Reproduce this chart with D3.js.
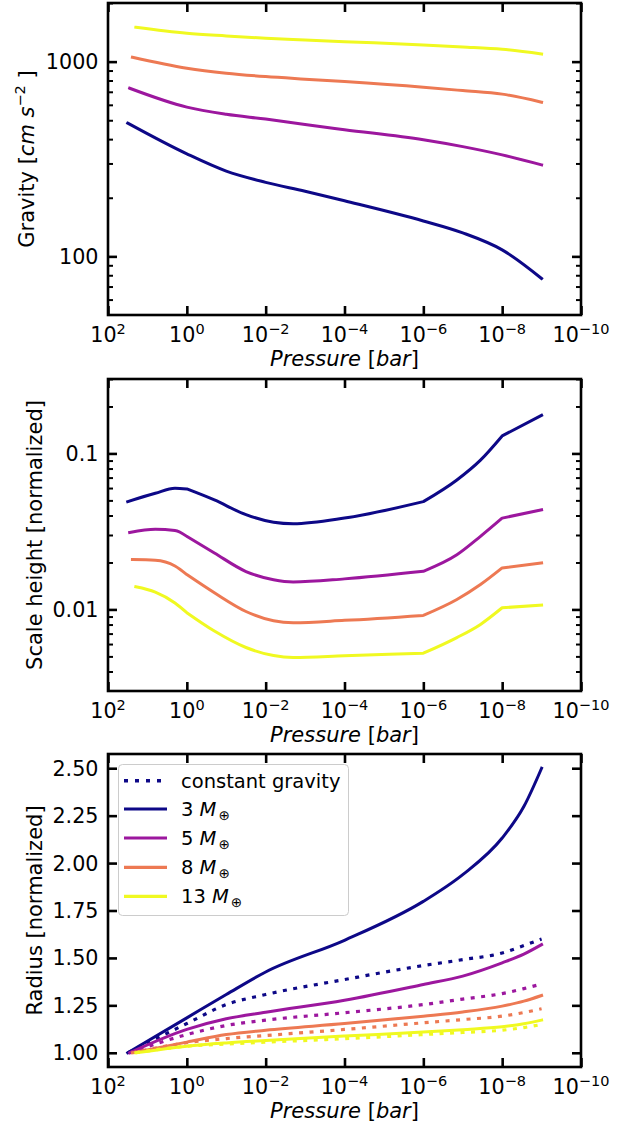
<!DOCTYPE html>
<html><head><meta charset="utf-8">
<script src="https://cdn.jsdelivr.net/npm/d3@7"></script>
<style>
body{margin:0;background:#fff}
text{font-family:"DejaVu Sans",sans-serif;fill:#000}
</style>
</head><body>
<svg id="chart" width="631" height="1123"></svg>
<script>
// ---------------- DATA ----------------
const masses = ["3", "5", "8", "13"];
const seriesColors = ["#0d0887", "#9c179e", "#ed7953", "#f0f921"];
// first pressure (bar) of each mass series
const startPressure = [31.6, 28.2, 24.0, 19.7];

// Panel 1: gravity [cm s^-2]
const gravityPressure = [1, 1e-1, 1e-2, 1e-3, 1e-4, 1e-6, 1e-7, 1e-8, 1e-9];
const gravity3 = [483, 336, 274, 240, 216, 193, 152, 132, 108, 77];
const gravity5 = [730, 584, 537, 507, 475, 447, 397, 366, 332, 295];
const gravity8 = [1053, 925, 872, 838, 813, 790, 739, 710, 681, 619];
const gravity13 = [1500, 1398, 1355, 1318, 1291, 1266, 1218, 1190, 1158, 1095];

// Panel 2: scale height [normalized]
const scalePressure = [6.31, 2.0, 1, 0.2, 0.0316, 0.00631, 0.002, 1e-4, 1e-6, 1.41e-7, 3.55e-8, 1e-8, 1e-9];
const scale3 = [0.0491, 0.0555, 0.0598, 0.0592, 0.0503, 0.0405, 0.0362, 0.0354, 0.0385, 0.0491, 0.0676, 0.0906, 0.1295, 0.1756];
const scale5 = [0.0311, 0.0326, 0.0321, 0.0294, 0.0230, 0.0175, 0.0155, 0.0150, 0.0157, 0.01756, 0.0224, 0.0294, 0.0385, 0.0435];
const scale8 = [0.0209, 0.0207, 0.0190, 0.01672, 0.01278, 0.0097, 0.00845, 0.00822, 0.00851, 0.00916, 0.01158, 0.01444, 0.01846, 0.01986];
const scale13 = [0.01396, 0.0129, 0.0110, 0.00953, 0.00727, 0.0057, 0.00506, 0.00492, 0.00504, 0.00524, 0.0066, 0.00802, 0.01025, 0.01065];
// pressures where the scale-height profiles have a kink
const scaleKinks = [1, 1e-6, 1e-8];

// Panel 3: radius [normalized]
const radiusPressure = [1, 1e-1, 1e-2, 1e-4, 1e-6, 1e-7, 1e-8, 2.82e-9, 1e-9];
const radius3 = [1.0, 1.184, 1.307, 1.426, 1.593, 1.798, 1.939, 2.132, 2.298, 2.5];
const radius5 = [1.0, 1.123, 1.179, 1.214, 1.277, 1.36, 1.404, 1.474, 1.52, 1.57];
const radius8 = [1.0, 1.056, 1.096, 1.119, 1.154, 1.193, 1.215, 1.246, 1.272, 1.302];
const radius13 = [1.0, 1.035, 1.052, 1.065, 1.088, 1.109, 1.122, 1.137, 1.153, 1.172];
const radiusConst3 = [1.0, 1.154, 1.254, 1.307, 1.386, 1.46, 1.491, 1.526, 1.565, 1.6];
const radiusConst5 = [1.0, 1.096, 1.144, 1.172, 1.211, 1.254, 1.283, 1.312, 1.338, 1.363];
const radiusConst8 = [1.0, 1.053, 1.075, 1.091, 1.123, 1.158, 1.175, 1.193, 1.212, 1.232];
const radiusConst13 = [1.0, 1.035, 1.046, 1.056, 1.074, 1.096, 1.107, 1.119, 1.133, 1.149];

// Ticks
const xTickExponents = [2, 0, -2, -4, -6, -8, -10];
const gravityMajor = [100, 1000];
const gravityMinor = [60, 70, 80, 90, 200, 300, 400, 500, 600, 700, 800, 900, 2000];
const scaleMajor = [0.01, 0.1];
const scaleMinor = [0.004, 0.005, 0.006, 0.007, 0.008, 0.009, 0.02, 0.03, 0.04, 0.05, 0.06, 0.07, 0.08, 0.09, 0.2, 0.3];
const radiusMajor = [1.0, 1.25, 1.5, 1.75, 2.0, 2.25, 2.5];

// ---------------- LAYOUT ----------------
const svg = d3.select("#chart");
const L = 108, R = 581;
const x = d3.scaleLog().domain([1e2, 1e-10]).range([L, R]);
const MINUS = "\u2212";
const FS = 20.7;

function panel(top, bottom, y, major, minor, fmt) {
  const g = svg.append("g");
  const styleAxis = (sel, w) => {
    sel.select(".domain").remove();
    sel.selectAll(".tick line").attr("stroke", "#000").attr("stroke-width", w);
    sel.selectAll(".tick text").remove();
  };
  const xv = xTickExponents.map(e => Math.pow(10, e));
  g.append("g").attr("transform", `translate(0,${bottom})`).call(d3.axisBottom(x).tickValues(xv).tickSize(-9).tickFormat("")).call(s => styleAxis(s, 2.6));
  g.append("g").attr("transform", `translate(0,${top})`).call(d3.axisTop(x).tickValues(xv).tickSize(-9).tickFormat("")).call(s => styleAxis(s, 2.6));
  g.append("g").attr("transform", `translate(${L},0)`).call(d3.axisLeft(y).tickValues(major).tickSize(-9).tickFormat("")).call(s => styleAxis(s, 2.6));
  g.append("g").attr("transform", `translate(${R},0)`).call(d3.axisRight(y).tickValues(major).tickSize(-9).tickFormat("")).call(s => styleAxis(s, 2.6));
  if (minor.length) {
    g.append("g").attr("transform", `translate(${L},0)`).call(d3.axisLeft(y).tickValues(minor).tickSize(-5).tickFormat("")).call(s => styleAxis(s, 2));
    g.append("g").attr("transform", `translate(${R},0)`).call(d3.axisRight(y).tickValues(minor).tickSize(-5).tickFormat("")).call(s => styleAxis(s, 2));
  }
  // x tick labels
  xTickExponents.forEach(e => {
    const t = g.append("text").attr("x", x(Math.pow(10, e))).attr("y", bottom + 27)
      .attr("text-anchor", "middle").style("font-size", FS + "px");
    t.append("tspan").text("10");
    t.append("tspan").attr("dy", -8.5).style("font-size", "14.5px").text(String(e).replace("-", MINUS));
  });
  // y tick labels
  major.forEach(v => {
    g.append("text").attr("x", 98.5).attr("y", y(v) + 7.5).attr("text-anchor", "end")
      .style("font-size", FS + "px").text(fmt(v));
  });
  // x label
  const xl = g.append("text").attr("x", (L + R) / 2).attr("y", bottom + 51)
    .attr("text-anchor", "middle").style("font-size", "21px");
  xl.append("tspan").style("font-style", "italic").text("Pressure");
  xl.append("tspan").text(" [");
  xl.append("tspan").style("font-style", "italic").text("bar");
  xl.append("tspan").text("]");
  return g;
}
function frame(g, top, bottom) {
  g.append("rect").attr("x", L).attr("y", top).attr("width", R - L).attr("height", bottom - top)
    .attr("fill", "none").attr("stroke", "#000").attr("stroke-width", 2.6);
}

function line(y, curve) {
  return d3.line().x(d => x(d[0])).y(d => y(d[1])).curve(curve);
}
function pts(i, grid, vals) {
  return d3.zip([startPressure[i]].concat(grid), vals);
}
// piecewise smooth path, split at kink pressures
function kinkedPath(points, y, kinks) {
  const segs = [];
  let cur = [];
  points.forEach(p => {
    cur.push(p);
    if (kinks.some(k => Math.abs(Math.log10(p[0]) - Math.log10(k)) < 1e-6)) {
      segs.push(cur);
      cur = [p];
    }
  });
  if (cur.length > 1) segs.push(cur);
  const gen = line(y, d3.curveMonotoneX);
  return segs.map((s, i) => {
    const d = gen(s);
    return i === 0 ? d : "L" + d.slice(1);
  }).join("");
}

// ---- Panel 1: gravity ----
{
  const top = 3, bottom = 315;
  const y = d3.scaleLog().domain([50, 2000]).range([bottom, top]);
  const g = panel(top, bottom, y, gravityMajor, gravityMinor, v => String(v));
  const series = [gravity3, gravity5, gravity8, gravity13];
  series.forEach((vals, i) => {
    g.append("path").datum(pts(i, gravityPressure, vals)).attr("d", line(y, d3.curveMonotoneX))
      .attr("fill", "none").attr("stroke", seriesColors[i]).attr("stroke-width", 3).attr("stroke-linecap", "square");
  });
  frame(g, top, bottom);
  const yl = g.append("text").attr("transform", `translate(34,${(top + bottom) / 2}) rotate(-90)`)
    .attr("text-anchor", "middle").style("font-size", "21px");
  yl.append("tspan").text("Gravity [");
  yl.append("tspan").style("font-style", "italic").text("cm s");
  yl.append("tspan").attr("dy", -9).style("font-size", "14.5px").text(MINUS + "2");
  yl.append("tspan").attr("dy", 9).text(" ]");
}

// ---- Panel 2: scale height ----
{
  const top = 379, bottom = 691;
  const y = d3.scaleLog().domain([0.003, 0.3]).range([bottom, top]);
  const g = panel(top, bottom, y, scaleMajor, scaleMinor, v => String(v));
  const series = [scale3, scale5, scale8, scale13];
  series.forEach((vals, i) => {
    g.append("path").attr("d", kinkedPath(pts(i, scalePressure, vals), y, scaleKinks))
      .attr("fill", "none").attr("stroke", seriesColors[i]).attr("stroke-width", 3)
      .attr("stroke-linecap", "square").attr("stroke-linejoin", "round");
  });
  frame(g, top, bottom);
  g.append("text").attr("transform", `translate(42,${(top + bottom) / 2}) rotate(-90)`)
    .attr("text-anchor", "middle").style("font-size", "21px").text("Scale height [normalized]");
}

// ---- Panel 3: radius ----
{
  const top = 754, bottom = 1067;
  const y = d3.scaleLinear().domain([0.925, 2.575]).range([bottom, top]);
  const g = panel(top, bottom, y, radiusMajor, [], v => v.toFixed(2));
  const solid = [radius3, radius5, radius8, radius13];
  const dotted = [radiusConst3, radiusConst5, radiusConst8, radiusConst13];
  masses.forEach((m, i) => {
    g.append("path").datum(pts(i, radiusPressure, solid[i])).attr("d", line(y, d3.curveMonotoneX))
      .attr("fill", "none").attr("stroke", seriesColors[i]).attr("stroke-width", 3).attr("stroke-linecap", "square");
    g.append("path").datum(pts(i, radiusPressure, dotted[i])).attr("d", line(y, d3.curveMonotoneX))
      .attr("fill", "none").attr("stroke", seriesColors[i]).attr("stroke-width", 3.2)
      .attr("stroke-dasharray", "4,6.5");
  });
  frame(g, top, bottom);
  g.append("text").attr("transform", `translate(42,${(top + bottom) / 2}) rotate(-90)`)
    .attr("text-anchor", "middle").style("font-size", "21px").text("Radius [normalized]");

  // legend
  const lg = g.append("g");
  lg.append("rect").attr("x", 118.5).attr("y", 764.5).attr("width", 230).attr("height", 151).attr("rx", 4)
    .attr("fill", "#fff").attr("fill-opacity", 0.8).attr("stroke", "#cccccc").attr("stroke-width", 1);
  const rowY = [780.7, 809, 838, 867.3, 896.3];
  lg.append("line").attr("x1", 124).attr("x2", 167).attr("y1", rowY[0]).attr("y2", rowY[0])
    .attr("stroke", seriesColors[0]).attr("stroke-width", 3.5).attr("stroke-dasharray", "4,7");
  lg.append("text").attr("x", 181).attr("y", rowY[0] + 6.8).style("font-size", "19.5px").text("constant gravity");
  masses.forEach((m, i) => {
    const yy = rowY[i + 1];
    lg.append("line").attr("x1", 124).attr("x2", 167).attr("y1", yy).attr("y2", yy)
      .attr("stroke", seriesColors[i]).attr("stroke-width", 3.2);
    const t = lg.append("text").attr("x", 181).attr("y", yy + 6.8).style("font-size", "19.5px");
    t.append("tspan").text(m + " ");
    t.append("tspan").style("font-style", "italic").text("M");
    t.append("tspan").attr("dy", 4).attr("dx", 2).style("font-size", "13.5px").text("\u2295");
  });
}
</script>
</body></html>
